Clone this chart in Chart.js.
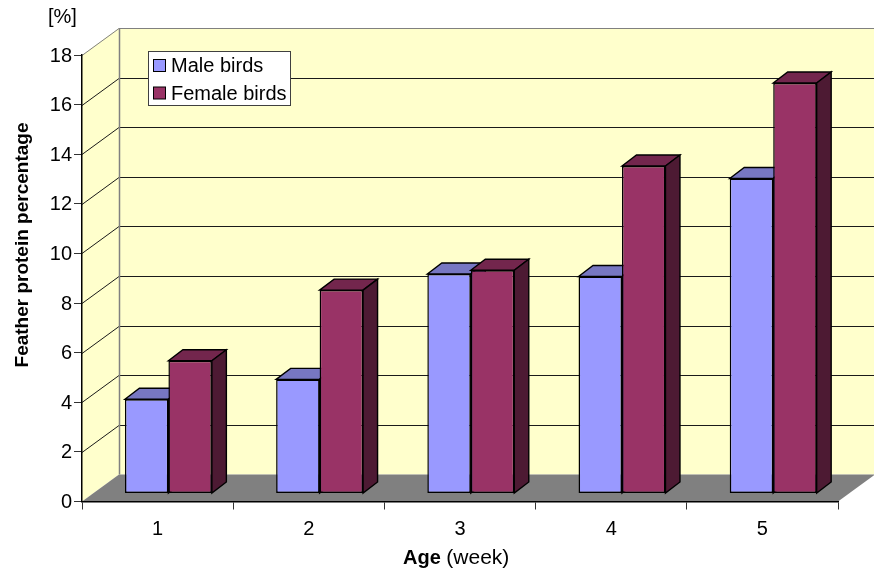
<!DOCTYPE html>
<html>
<head>
<meta charset="utf-8">
<style>
  html, body { margin: 0; padding: 0; background: #fff; }
  canvas { display: block; }
</style>
<script src="https://cdn.jsdelivr.net/npm/chart.js@4"></script>
</head>
<body>
<canvas id="chart" width="874" height="570"></canvas>
<script>
const ages = ['1', '2', '3', '4', '5'];
const maleBirds = [3.8, 4.6, 8.85, 8.75, 12.7];
const femaleBirds = [5.35, 8.2, 9.0, 13.2, 16.55];

const FONT = '"Liberation Sans", Arial, sans-serif';
// offset of the back wall, the bars' front plane and the bars' own depth
const wall = { dx: 37, dy: -27 };
const barShift = { dx: 10.8, dy: -8 };
const barDepth = { dx: 14.5, dy: -11 };

function poly(ctx, pts, fill, stroke) {
  ctx.beginPath();
  pts.forEach((p, i) => i ? ctx.lineTo(p[0], p[1]) : ctx.moveTo(p[0], p[1]));
  ctx.closePath();
  if (fill) { ctx.fillStyle = fill; ctx.fill(); }
  if (stroke) { ctx.strokeStyle = stroke; ctx.lineWidth = 1.4; ctx.stroke(); }
}

const box3d = {
  id: 'box3d',
  beforeDraw(chart) {
    const { ctx, chartArea: a, scales: { y } } = chart;
    const { dx, dy } = wall;
    ctx.save();
    // side wall, back wall and floor
    poly(ctx, [[a.left, a.top], [a.left + dx, a.top + dy], [a.left + dx, a.bottom + dy], [a.left, a.bottom]], '#FFFFCC');
    poly(ctx, [[a.left + dx, a.top + dy], [a.right + dx, a.top + dy], [a.right + dx, a.bottom + dy], [a.left + dx, a.bottom + dy]], '#FFFFCC');
    poly(ctx, [[a.left, a.bottom], [a.left + dx, a.bottom + dy], [a.right + dx, a.bottom + dy], [a.right, a.bottom]], '#808080');
    // gridlines run along both walls
    y.ticks.forEach(t => {
      if (t.value === 0) return;
      const py = Math.round(y.getPixelForValue(t.value)) + 0.5;
      ctx.beginPath();
      ctx.moveTo(a.left, py);
      ctx.lineTo(a.left + dx, py + dy);
      ctx.lineTo(a.right + dx, py + dy);
      ctx.strokeStyle = t.value === 18 ? '#808080' : '#1a1a1a';
      ctx.lineWidth = 1;
      ctx.stroke();
    });
    ctx.beginPath();
    ctx.moveTo(a.left + dx + 0.5, a.top + dy);
    ctx.lineTo(a.left + dx + 0.5, a.bottom + dy);
    ctx.strokeStyle = '#808080';
    ctx.lineWidth = 1.5;
    ctx.stroke();
    ctx.restore();
  },
  // bars go male first so the female front hides the male side face
  beforeDatasetsDraw(chart) {
    const { ctx } = chart;
    ctx.save();
    ctx.translate(barShift.dx, barShift.dy);
    chart.data.datasets.forEach((ds, i) => {
      const meta = chart.getDatasetMeta(i);
      meta.data.forEach(bar => {
        const l = bar.x - bar.width / 2, r = bar.x + bar.width / 2;
        const { dx, dy } = barDepth;
        poly(ctx, [[l, bar.y], [l + dx, bar.y + dy], [r + dx, bar.y + dy], [r, bar.y]], ds.topColor, '#000');
        poly(ctx, [[r, bar.y], [r + dx, bar.y + dy], [r + dx, bar.base + dy], [r, bar.base]], ds.sideColor, '#000');
      });
      meta.controller.draw();
    });
    ctx.restore();
    return false;
  },
  afterDraw(chart) {
    const { ctx } = chart;
    ctx.save();
    ctx.textBaseline = 'middle';
    ctx.textAlign = 'left';
    ctx.fillStyle = '#000';

    ctx.font = '20px ' + FONT;
    ctx.fillText('[%]', 48, 17);

    // x axis title has a bold and a regular part
    ctx.font = 'bold 20px ' + FONT;
    ctx.fillText('Age', 403, 558);
    const w = ctx.measureText('Age ').width;
    ctx.font = '21px ' + FONT;
    ctx.fillText('(week)', 403 + w, 558);

    // y axis title is not centred on the axis
    ctx.save();
    ctx.translate(23, 245);
    ctx.rotate(-Math.PI / 2);
    ctx.textAlign = 'center';
    ctx.font = 'bold 19px ' + FONT;
    ctx.fillText('Feather protein percentage', 0, 0);
    ctx.restore();

    // legend
    ctx.fillStyle = '#fff';
    ctx.fillRect(148.5, 51.5, 142, 54);
    ctx.strokeStyle = '#404040';
    ctx.lineWidth = 1;
    ctx.strokeRect(148.5, 51.5, 142, 54);
    chart.data.datasets.forEach((ds, i) => {
      const top = 59.5 + i * 27.5;
      ctx.fillStyle = ds.backgroundColor;
      ctx.fillRect(153.5, top, 12, 12);
      ctx.strokeStyle = '#000';
      ctx.strokeRect(153.5, top, 12, 12);
      ctx.fillStyle = '#000';
      ctx.font = '20px ' + FONT;
      ctx.fillText(ds.label, 171, 66.5 + i * 28);
    });
    ctx.restore();
  }
};

new Chart(document.getElementById('chart'), {
  type: 'bar',
  data: {
    labels: ages,
    datasets: [
      { label: 'Male birds', data: maleBirds, backgroundColor: '#9999FF', topColor: '#7777C2', sideColor: '#4D4D80' },
      { label: 'Female birds', data: femaleBirds, backgroundColor: '#993366', topColor: '#73264D', sideColor: '#4D1A33' }
    ]
  },
  options: {
    responsive: false,
    animation: false,
    layout: { padding: { top: 55, right: 36, left: 0, bottom: 0 } },
    datasets: {
      bar: {
        categoryPercentage: 0.575,
        barPercentage: 1,
        borderColor: '#000',
        borderWidth: 1.5,
        borderSkipped: false,
        clip: false
      }
    },
    plugins: {
      legend: { display: false },
      tooltip: { enabled: false }
    },
    scales: {
      x: {
        afterFit: s => { s.height = 68.5; },
        grid: { drawOnChartArea: false, tickLength: 8, color: '#333' },
        border: { color: '#000', width: 1.5 },
        ticks: { color: '#000', font: { family: FONT, size: 20 }, padding: 8, maxRotation: 0 }
      },
      y: {
        min: 0,
        max: 18,
        afterFit: s => { s.width = 82; },
        grid: { drawOnChartArea: false, tickLength: 8, color: '#333' },
        border: { color: '#000', width: 1.5 },
        ticks: { stepSize: 2, color: '#000', font: { family: FONT, size: 20 }, padding: 2, labelOffset: 1 }
      }
    }
  },
  plugins: [box3d]
});
</script>
</body>
</html>
